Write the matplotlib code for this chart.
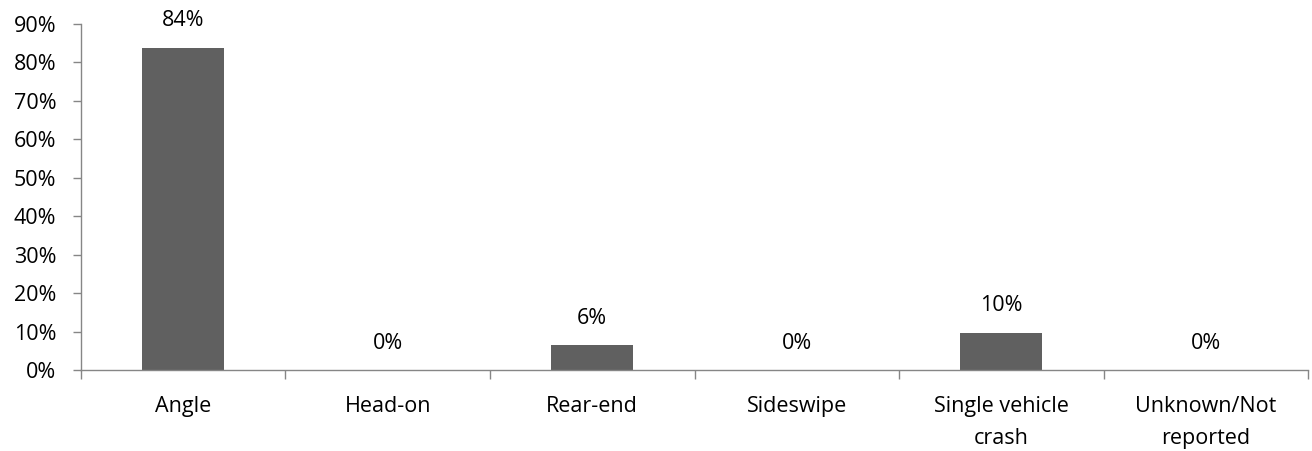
"""Crash type distribution bar chart."""

import matplotlib.pyplot as plt
from matplotlib.ticker import PercentFormatter

plt.rcParams['font.family'] = ['Open Sans', 'DejaVu Sans']

# Share of crashes by manner of collision
categories = ['Angle', 'Head-on', 'Rear-end', 'Sideswipe',
              'Single vehicle\ncrash', 'Unknown/Not\nreported']
shares = [26 / 31, 0.0, 2 / 31, 0.0, 3 / 31, 0.0]

axis_gray = '#868686'
bar_gray = '#606060'
fs = 15.5

fig = plt.figure(figsize=(13.12, 4.51), dpi=100)
ax = fig.add_axes([0.0617, 0.1796, 0.9353, 0.7672])

x = range(len(categories))
ax.bar(x, shares, width=0.40, color=bar_gray, zorder=2)

# Data labels above each bar
for xi, val in zip(x, shares):
    ax.annotate(f'{val:.0%}', xy=(xi, val), xytext=(0, 19.3),
                textcoords='offset points', ha='center', va='center',
                fontsize=fs, color='black')

ax.set_xlim(-0.5, len(categories) - 0.5)
ax.set_ylim(0, 0.9)
ax.set_yticks([i / 10 for i in range(10)])
ax.yaxis.set_major_formatter(PercentFormatter(1.0, decimals=0))

# Category ticks sit between bars
ax.set_xticks([i - 0.5 for i in range(len(categories) + 1)], minor=False)
ax.set_xticklabels([])
ax.set_xticks(list(x), minor=True)
ax.set_xticklabels(categories, minor=True, linespacing=1.72)
ax.tick_params(axis='x', which='major', length=6.5, width=1, color=axis_gray,
               direction='out')
ax.tick_params(axis='x', which='minor', length=0, pad=18.5, labelsize=fs)
ax.tick_params(axis='y', length=5.8, width=1, color=axis_gray,
               direction='out', pad=12, labelsize=fs)

for side in ['top', 'right']:
    ax.spines[side].set_visible(False)
for side in ['left', 'bottom']:
    ax.spines[side].set_color(axis_gray)
    ax.spines[side].set_linewidth(1)

plt.savefig('out.png', dpi=100)
plt.close()
